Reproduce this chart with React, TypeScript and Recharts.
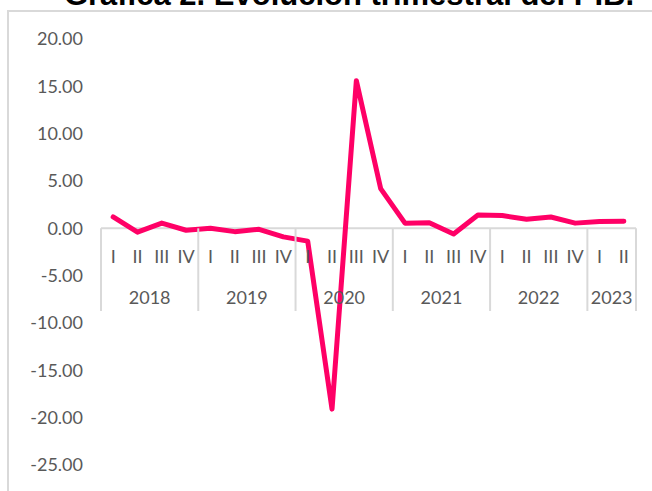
import React from "react";
import { LineChart, Line, XAxis, YAxis, ReferenceLine } from "recharts";

const years = [
  "2018", "2018", "2018", "2018",
  "2019", "2019", "2019", "2019",
  "2020", "2020", "2020", "2020",
  "2021", "2021", "2021", "2021",
  "2022", "2022", "2022", "2022",
  "2023", "2023",
];
const quarters = [
  "I", "II", "III", "IV", "I", "II", "III", "IV", "I", "II", "III", "IV",
  "I", "II", "III", "IV", "I", "II", "III", "IV", "I", "II",
];
const gdpChange = [
  1.2, -0.4, 0.55, -0.2, 0.0, -0.35, -0.1, -0.9, -1.35, -19.1, 15.6, 4.2,
  0.55, 0.6, -0.6, 1.4, 1.35, 0.95, 1.2, 0.55, 0.72, 0.76,
];
const yTicks = [-25, -20, -15, -10, -5, 0, 5, 10, 15, 20];

const data = quarters.map((q, i) => ({ q, year: years[i], value: gdpChange[i] }));

const W = 652;
const H = 491;
const margin = { top: 39, right: 16, bottom: 0, left: 0 };
const yAxisWidth = 101;
const xAxisHeight = 26;
const plotW = W - margin.left - margin.right - yAxisWidth;
const plotH = H - margin.top - margin.bottom - xAxisHeight;
const step = plotW / data.length;
const yMin = yTicks[0];
const yMax = yTicks[yTicks.length - 1];
const zeroY = margin.top + (plotH * (yMax - 0)) / (yMax - yMin);

const FONT = "Lato, 'Open Sans', sans-serif";
const GRAY = "#595959";
const RULE = "#d9d9d9";

function PeriodTick(props: any) {
  const { x, index } = props;
  const isFirst = index === 0 || years[index] !== years[index - 1];
  const isLast = index === data.length - 1;
  let yearLabel = null;
  if (isFirst) {
    const count = years.filter((y) => y === years[index]).length;
    const cx = x + ((count - 1) * step) / 2;
    yearLabel = (
      <text x={cx} y={303.5} textAnchor="middle" fill={GRAY} fontSize={18} fontFamily={FONT}>
        {years[index]}
      </text>
    );
  }
  return (
    <g>
      <text x={x} y={263} textAnchor="middle" fill={GRAY} fontSize={18} fontFamily={FONT}>
        {quarters[index]}
      </text>
      {yearLabel}
      {isFirst && <line x1={x - step / 2} x2={x - step / 2} y1={zeroY} y2={311} stroke={RULE} strokeWidth={2} />}
      {isLast && <line x1={x + step / 2} x2={x + step / 2} y1={zeroY} y2={311} stroke={RULE} strokeWidth={2} />}
    </g>
  );
}

export default function App() {
  return (
    <div style={{ position: "absolute", left: 0, top: 0, width: W, height: H, overflow: "hidden", background: "#fff" }}>
      <svg width={W} height={20} style={{ position: "absolute", left: 0, top: 0 }}>
        <text
          x={349}
          y={5}
          textAnchor="middle"
          fontSize={31}
          fontWeight={700}
          fontFamily="'Liberation Sans', Arial, sans-serif"
          fill="#000"
        >
          Gráfica 2. Evolución trimestral del PIB.
        </text>
      </svg>
      <div
        style={{
          position: "absolute",
          left: 7,
          top: 10,
          width: 700,
          height: 600,
          border: `2px solid ${RULE}`,
          boxSizing: "border-box",
        }}
      />
      <div style={{ position: "absolute", left: 0, top: 0 }}>
        <LineChart width={W} height={H} data={data} margin={margin}>
          <XAxis
            dataKey="q"
            interval={0}
            axisLine={false}
            tickLine={false}
            height={xAxisHeight}
            padding={{ left: step / 2, right: step / 2 }}
            tick={<PeriodTick />}
          />
          <YAxis
            width={yAxisWidth}
            domain={[yMin, yMax]}
            ticks={yTicks}
            interval={0}
            axisLine={false}
            tickLine={false}
            tickSize={0}
            tickMargin={18}
            tickFormatter={(v: number) => v.toFixed(2)}
            tick={{ fill: GRAY, fontSize: 18, fontFamily: FONT }}
          />
          <ReferenceLine y={0} stroke={RULE} strokeWidth={2} />
          <Line
            type="linear"
            dataKey="value"
            stroke="#ff0066"
            strokeWidth={5}
            strokeLinejoin="round"
            strokeLinecap="round"
            dot={false}
            isAnimationActive={false}
          />
        </LineChart>
      </div>
    </div>
  );
}
